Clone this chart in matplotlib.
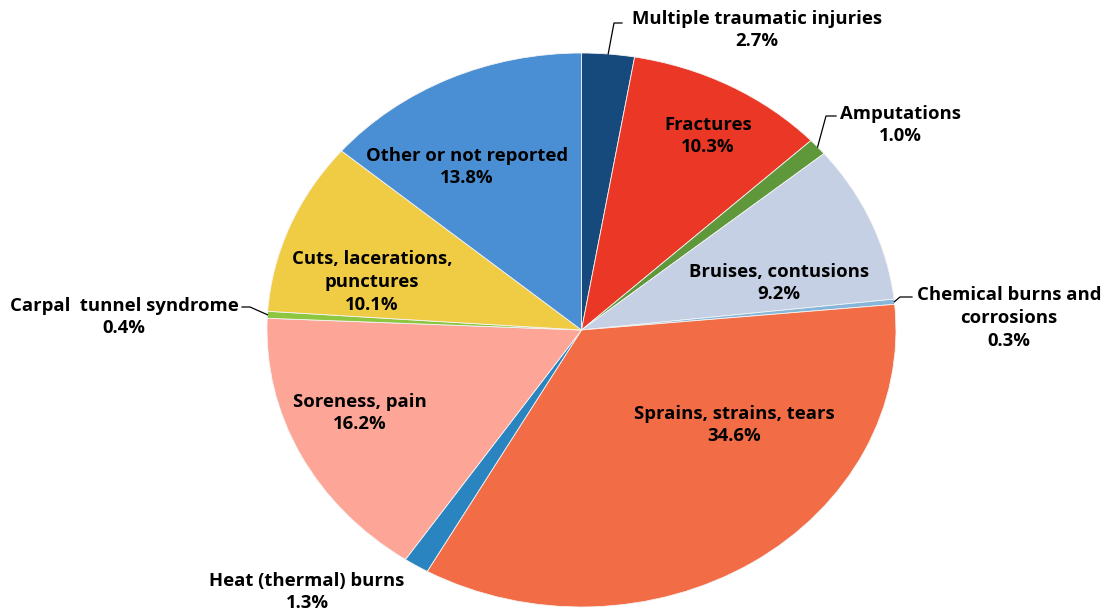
import numpy as np
import matplotlib
matplotlib.use("Agg")
from matplotlib import pyplot as plt

# slices clockwise from 12 o'clock
labels = ["Multiple traumatic injuries", "Fractures", "Amputations", "Bruises, contusions",
          "Chemical burns and\ncorrosions", "Sprains, strains, tears", "Heat (thermal) burns",
          "Soreness, pain", "Carpal  tunnel syndrome", "Cuts, lacerations,\npunctures",
          "Other or not reported"]
shares = [2.7, 10.3, 1.0, 9.2, 0.3, 34.6, 1.3, 16.2, 0.4, 10.1, 13.8]
colors = ["#174a7c", "#ea3726", "#5e983a", "#c5d0e4", "#86b6da", "#f26c45", "#2a84c0",
          "#fda698", "#8dc63f", "#f0cc45", "#4a8fd3"]

plt.rcParams['font.family'] = ['Open Sans', 'DejaVu Sans']

W, H = 1107, 615
fig = plt.figure(figsize=(W / 100, H / 100), dpi=100)
ax = fig.add_axes([267 / W, 8 / H, 629 / W, 554 / H])
wedges, _ = ax.pie(shares, colors=colors, startangle=90, counterclock=False,
                   wedgeprops=dict(edgecolor="#f4f4f4", linewidth=0.6))
ax.set_aspect('auto')
ax.set_xlim(-1, 1)
ax.set_ylim(-1, 1)
ax.axis('off')


def px(x, y):
    # pixel position -> data coords of the pie axes
    return (x - 581.5) / 314.5, (330 - y) / 277.0


FS = 13.3
LS = 1.35

# label placement in pixels (text centre), None = no leader line
inside = {1: (708, 136), 3: (779, 283), 5: (734, 425), 7: (360, 413), 9: (372, 282), 10: (467, 167)}
outside = {0: ((757, 30), (614, 23), (622, 23)),
           2: ((900, 125), (826, 116), (836, 116)),
           4: ((1009, 318), (900, 297), (912, 297)),
           6: ((307, 592), None, None),
           8: ((124, 317), (250, 307), (242, 307))}

for i, w in enumerate(wedges):
    txt = f"{labels[i]}\n{shares[i]:.1f}%"
    mid = np.deg2rad((w.theta1 + w.theta2) / 2)
    if i in inside:
        x, y = px(*inside[i])
        ax.text(x, y, txt, ha='center', va='center', fontsize=FS, fontweight='bold',
                linespacing=LS, color='black')
    else:
        (tx, ty), knee, end = outside[i]
        x, y = px(tx, ty)
        ax.text(x, y, txt, ha='center', va='center', fontsize=FS, fontweight='bold',
                linespacing=LS, color='black', clip_on=False)
        if knee is not None:
            ex, ey = np.cos(mid), np.sin(mid)
            kx, ky = px(*knee)
            nx, ny = px(*end)
            ax.plot([ex, kx, nx], [ey, ky, ny], color='black', lw=0.9, clip_on=False)

fig.savefig("out.png", dpi=100)
